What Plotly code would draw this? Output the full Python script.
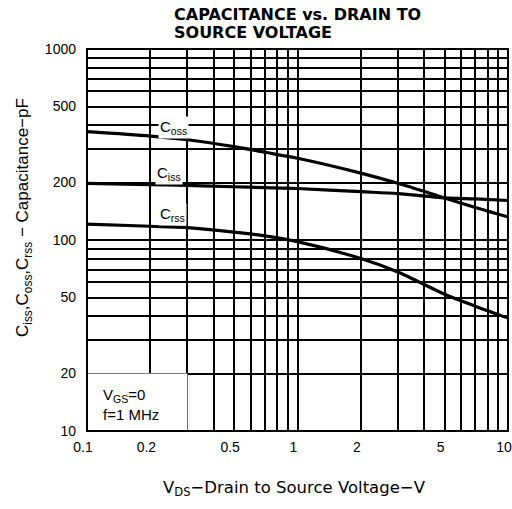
import plotly.graph_objects as go

vds = [0.1, 0.2, 0.3, 0.5, 0.7, 1.0, 2.0, 3.0, 5.0, 7.0, 10.0]
coss = [369, 350, 335, 308, 288, 268, 224, 198, 166, 148, 132]
ciss = [198, 195, 193, 190, 188, 186, 179, 175, 166, 164, 161]
crss = [121, 118, 116, 110, 105, 98, 80, 68, 52, 45, 39]

x_grid = [0.1, 0.2, 0.3, 0.4, 0.5, 0.6, 0.7, 0.8, 0.9, 1, 2, 3, 4, 5, 6, 7, 8, 9, 10]
x_labels = {0.1: "0.1", 0.2: "0.2", 0.5: "0.5", 1: "1", 2: "2", 5: "5", 10: "10"}
y_grid = [10, 20, 30, 40, 50, 60, 70, 80, 90, 100, 200, 300, 400, 500, 600, 700, 800, 900, 1000]
y_labels = {10: "10", 20: "20", 50: "50", 100: "100", 200: "200", 500: "500", 1000: "1000"}

W, H = 512, 509
L, R, T, B = 87, 4, 49, 78
PW, PH = W - L - R, H - T - B


def px(xp):
    return (xp - L) / PW


def py(yp):
    return (H - B - yp) / PH


font = "Liberation Sans, Arial, sans-serif"

fig = go.Figure()
for name, vals in [("Coss", coss), ("Ciss", ciss), ("Crss", crss)]:
    fig.add_trace(go.Scatter(x=vds, y=vals, mode="lines", name=name,
                             line=dict(color="black", width=3.2, shape="spline", smoothing=0.8),
                             showlegend=False, hoverinfo="skip"))

fig.update_xaxes(type="log", range=[-1, 1], tickvals=x_grid,
                 ticktext=[x_labels.get(v, "") for v in x_grid],
                 showgrid=True, gridcolor="black", gridwidth=1.5, zeroline=False,
                 ticks="", tickfont=dict(family=font, size=14, color="black"),
                 showline=False, ticklabelstandoff=6, ticklabelshift=-4,
                 automargin=False, ticklabeloverflow="allow")
fig.update_yaxes(type="log", range=[1, 3], tickvals=y_grid,
                 ticktext=[y_labels.get(v, "") for v in y_grid],
                 showgrid=True, gridcolor="black", gridwidth=1.5, zeroline=False,
                 ticks="", tickfont=dict(family=font, size=14, color="black"),
                 showline=False, ticklabelstandoff=10, automargin=False,
                 ticklabeloverflow="allow")

# white box behind conditions text, then plot border
fig.add_shape(type="rect", xref="x", yref="y", x0=0.1, x1=0.3, y0=10, y1=20,
              fillcolor="white", line=dict(width=0), layer="above")
fig.add_shape(type="rect", xref="paper", yref="paper", x0=0, x1=1, y0=0, y1=1,
              line=dict(color="black", width=2), layer="above")

lab = dict(family=font, size=15, color="black")
for text, (xp, yp) in [("C<sub>oss</sub>", (173, 127)),
                       ("C<sub>iss</sub>", (169, 173)),
                       ("C<sub>rss</sub>", (172, 215))]:
    fig.add_annotation(x=px(xp), y=py(yp), xref="paper", yref="paper", text=text,
                       xanchor="center", yanchor="middle",
                       showarrow=False, font=lab, bgcolor="white", borderpad=1)

fig.add_annotation(x=px(101), y=py(404), xref="paper", yref="paper", xanchor="left",
                   yanchor="middle", text="V<sub>GS</sub>=0<br>f=1 MHz", align="left",
                   showarrow=False, font=dict(family=font, size=15, color="black"))

# title (two lines placed separately for tighter line spacing)
title_font = dict(family="DejaVu Sans", size=16, color="black")
fig.add_annotation(x=px(172), y=py(15), xref="paper", yref="paper", xanchor="left",
                   yanchor="middle", showarrow=False,
                   text="<b>CAPACITANCE vs. DRAIN TO</b>", font=title_font)
fig.add_annotation(x=px(172), y=py(32), xref="paper", yref="paper", xanchor="left",
                   yanchor="middle", showarrow=False,
                   text="<b>SOURCE VOLTAGE</b>", font=title_font)

# axis titles
fig.add_annotation(x=px(294), y=py(488), xref="paper", yref="paper", showarrow=False,
                   xanchor="center", yanchor="middle",
                   text="V<sub>DS</sub>\u2212Drain to Source Voltage\u2212V",
                   font=dict(family="DejaVu Sans", size=16.5, color="black"))
fig.add_annotation(x=px(24), y=py(218), xref="paper", yref="paper", showarrow=False,
                   xanchor="center", yanchor="middle", textangle=-90,
                   text="C<sub>iss</sub>,C<sub>oss</sub>,C<sub>rss</sub> \u2212 Capacitance\u2212pF",
                   font=dict(family=font, size=17, color="black"))

fig.update_layout(
    width=W, height=H,
    margin=dict(l=L, r=R, t=T, b=B),
    paper_bgcolor="white", plot_bgcolor="white",
)

fig.write_html("out.html", config={"displayModeBar": False},
               post_script="document.body.style.margin='0px';")
